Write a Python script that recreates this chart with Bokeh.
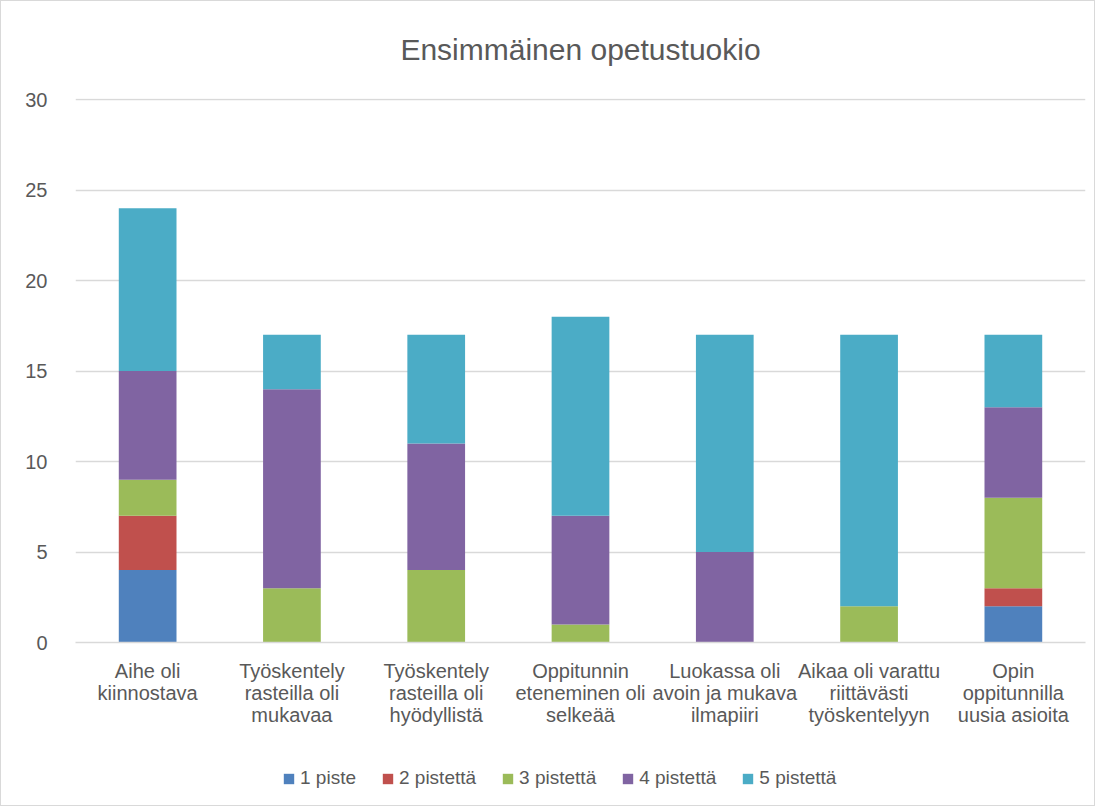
from bokeh.plotting import figure
from bokeh.models import FactorRange, Range1d, Legend, ColumnDataSource, FixedTicker
from bokeh.layouts import column
from bokeh.embed import file_html
from bokeh.resources import INLINE

categories = [
    "Aihe oli\nkiinnostava",
    "Työskentely\nrasteilla oli\nmukavaa",
    "Työskentely\nrasteilla oli\nhyödyllistä",
    "Oppitunnin\neteneminen oli\nselkeää",
    "Luokassa oli\navoin ja mukava\nilmapiiri",
    "Aikaa oli varattu\nriittävästi\ntyöskentelyyn",
    "Opin\noppitunnilla\nuusia asioita",
]
series_names = ["1 piste", "2 pistettä", "3 pistettä", "4 pistettä", "5 pistettä"]
piste1 = [4, 0, 0, 0, 0, 0, 2]
piste2 = [3, 0, 0, 0, 0, 0, 1]
piste3 = [2, 3, 4, 1, 0, 2, 5]
piste4 = [6, 11, 7, 6, 5, 0, 5]
piste5 = [9, 3, 6, 11, 12, 15, 4]
y_ticks = [0, 5, 10, 15, 20, 25, 30]
colors = ["#4F81BD", "#C0504D", "#9BBB59", "#8064A2", "#4BACC6"]
title_text = "Ensimmäinen opetustuokio"

source = ColumnDataSource(dict(cat=categories, s1=piste1, s2=piste2, s3=piste3, s4=piste4, s5=piste5))
keys = ["s1", "s2", "s3", "s4", "s5"]

p = figure(
    frame_width=1010, frame_height=544,
    x_range=FactorRange(*categories),
    y_range=Range1d(0, 30.06),
    output_backend="svg", toolbar_location=None,
    min_border_left=74, min_border_right=9, min_border_top=97, min_border_bottom=97,
)

p.vbar_stack(keys, x="cat", width=0.4, color=colors, line_color=None, source=source)

p.title.text = title_text
p.title.align = "center"
p.title.vertical_align = "top"
p.title.text_font = "Liberation Sans"
p.title.text_font_size = "30px"
p.title.text_font_style = "normal"
p.title.text_color = "#595959"
p.title.standoff = 61

p.outline_line_color = None
p.xgrid.grid_line_color = None
p.ygrid.grid_line_color = "#d9d9d9"
p.ygrid.grid_line_width = 1.5

p.yaxis.ticker = FixedTicker(ticks=y_ticks)
p.yaxis.axis_line_color = None
p.yaxis.major_tick_line_color = None
p.yaxis.minor_tick_line_color = None
p.yaxis.major_label_text_font = "Liberation Sans"
p.yaxis.major_label_text_font_size = "20px"
p.yaxis.major_label_text_color = "#595959"
p.yaxis.major_label_standoff = 22

p.xaxis.axis_line_color = "#d9d9d9"
p.xaxis.axis_line_width = 1.5
p.xaxis.major_tick_line_color = None
p.xaxis.minor_tick_line_color = None
p.xaxis.major_label_text_font = "Liberation Sans"
p.xaxis.major_label_text_font_size = "20px"
p.xaxis.major_label_text_color = "#595959"
p.xaxis.major_label_standoff = 11
p.xaxis.major_label_text_line_height = 1.0

# legend strip below the chart (its renderers are hidden, only swatches show)
lf = figure(
    width=1093, height=66,
    x_range=FactorRange(*categories), y_range=Range1d(0, 30),
    x_axis_type=None, y_axis_type=None,
    output_backend="svg", toolbar_location=None,
    min_border=0,
)
lf.outline_line_color = None
swatches = lf.vbar_stack(keys, x="cat", width=0.4, color=colors, line_color=None, source=source)
for r in swatches:
    r.visible = False

legend = Legend(
    items=[(n, [r]) for n, r in zip(series_names, swatches)],
    orientation="horizontal",
    location=(207, 16),
    label_text_font="Liberation Sans",
    label_text_font_size="19px",
    label_text_color="#595959",
    glyph_width=13, glyph_height=13,
    label_standoff=5, spacing=25,
    border_line_color=None,
    background_fill_alpha=0,
    margin=0,
    padding=0,
    click_policy="none",
)
lf.add_layout(legend, "center")

layout = column(p, lf, spacing=0, styles={"border": "1px solid #d9d9d9"})

open("out.html", "w").write(file_html(layout, INLINE))
